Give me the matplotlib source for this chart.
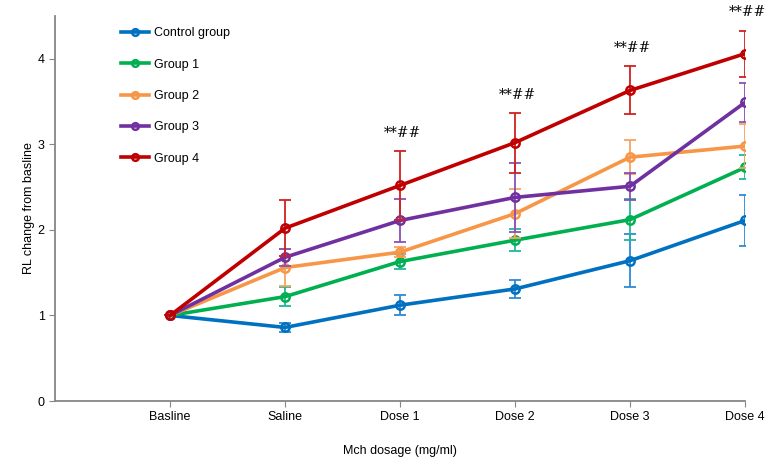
import matplotlib.pyplot as plt

plt.rcParams['font.family'] = ['Liberation Sans', 'DejaVu Sans']

# ---------------- DATA ----------------
categories = ["Basline", "Saline", "Dose 1", "Dose 2", "Dose 3", "Dose 4"]

control = [1.00, 0.86, 1.12, 1.31, 1.64, 2.11]
control_err = [0.0, 0.05, 0.12, 0.11, 0.31, 0.30]

group1 = [1.00, 1.22, 1.63, 1.88, 2.12, 2.73]
group1_err = [0.0, 0.11, 0.09, 0.13, 0.24, 0.14]

group2 = [1.00, 1.56, 1.74, 2.19, 2.85, 2.98]
group2_err = [0.0, 0.22, 0.06, 0.29, 0.20, 0.26]

group3 = [1.00, 1.68, 2.11, 2.38, 2.51, 3.49]
group3_err = [0.0, 0.10, 0.25, 0.40, 0.16, 0.23]

group4 = [1.00, 2.02, 2.52, 3.02, 3.63, 4.06]
group4_err = [0.0, 0.33, 0.40, 0.35, 0.28, 0.27]

labels = ["Control group", "Group 1", "Group 2", "Group 3", "Group 4"]
colors = ["#0070C0", "#00B050", "#F79646", "#7030A0", "#C00000"]
err_colors = ["#2E8AD8", "#1FB89A", "#F9A35E", "#8A4FB8", "#D02020"]

sig_label = "**##"
sig_points = [2, 3, 4, 5]

# ---------------- PLOT ----------------
fig = plt.figure(figsize=(7.73, 4.67), dpi=100)
ax = fig.add_axes([0.0712, 0.1413, 0.8926, 0.8244])

x = list(range(1, len(categories) + 1))
series = [(control, control_err), (group1, group1_err), (group2, group2_err),
          (group3, group3_err), (group4, group4_err)]

for i, (vals, errs) in enumerate(series):
    ax.errorbar(x, vals, yerr=errs, fmt="none", ecolor=err_colors[i],
                elinewidth=1.3, capsize=4, capthick=1.3, zorder=2 + i)
    ax.plot(x, vals, color=colors[i], lw=2.6, marker="o", ms=6,
            mfc="none", mec=colors[i], mew=1.8, label=labels[i], zorder=3 + i)

for j in sig_points:
    ax.text(x[j] + 0.02, group4[j] + group4_err[j] + 0.13, sig_label, ha="center",
            va="bottom", fontsize=10, family="DejaVu Serif", clip_on=False)

ax.set_xlim(0, 6)
ax.set_ylim(0, 4.5)
ax.set_xticks(x)
ax.set_xticklabels(categories, fontsize=9)
ax.set_yticks([0, 1, 2, 3, 4])
ax.tick_params(axis="y", labelsize=9, colors="#868686", labelcolor="black", length=4)
ax.tick_params(axis="x", colors="#868686", labelcolor="black", length=4, pad=3)

for s in ["top", "right"]:
    ax.spines[s].set_visible(False)
for s in ["left", "bottom"]:
    ax.spines[s].set_color("#868686")
    ax.spines[s].set_linewidth(1.3)

ax.set_ylabel("RL change from basline", fontsize=9, labelpad=2)
ax.set_xlabel("Mch dosage (mg/ml)", fontsize=9, labelpad=16)

leg = ax.legend(loc="upper left", bbox_to_anchor=(0.08, 1.0), frameon=False,
                fontsize=9, labelspacing=1.55, handlelength=2.2, handletextpad=0.4,
                markerscale=0.8)

plt.savefig("out.png")
